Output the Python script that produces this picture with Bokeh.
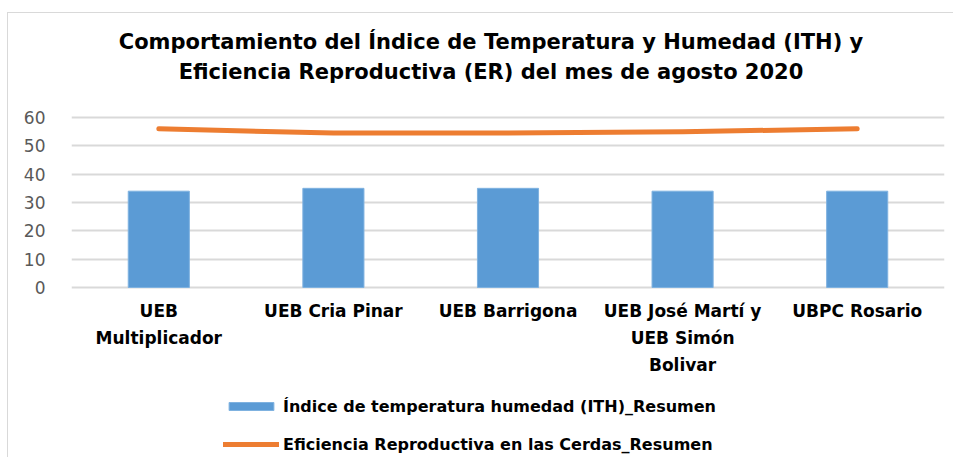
from bokeh.plotting import figure
from bokeh.models import FactorRange, Legend, LegendItem, ColumnDataSource
from bokeh.core.properties import value
from bokeh.embed import file_html
from bokeh.resources import INLINE

categories = ["UEB\nMultiplicador", "UEB Cria Pinar", "UEB Barrigona",
              "UEB José Martí y\nUEB Simón\nBolivar", "UBPC Rosario"]
ith_values = [34, 35, 35, 34, 34]
er_values = [56, 54.5, 54.5, 55, 56]
y_ticks = [0, 10, 20, 30, 40, 50, 60]
title_lines = ["Comportamiento del Índice de Temperatura y Humedad (ITH) y",
               "Eficiencia Reproductiva (ER) del mes de agosto 2020"]
series_names = ["Índice de temperatura humedad (ITH)_Resumen",
                "Eficiencia Reproductiva en las Cerdas_Resumen"]

FONT = "DejaVu Sans"
BLUE = "#5b9bd5"
ORANGE = "#ed7d31"

# layout positions (in axis units) for texts drawn inside the extended frame
LABEL_Y = -4.6
TITLE_Y = [86.8, 75.9]

src = ColumnDataSource(dict(cat=categories, ith=ith_values, er=er_values,
                            lab_y=[LABEL_Y] * len(categories)))
title_src = ColumnDataSource(dict(x=[categories[2]] * len(title_lines),
                                  y=TITLE_Y, text=title_lines))

p = figure(width=946, height=445, output_backend="svg", toolbar_location=None,
           x_range=FactorRange(factors=categories), y_range=(-60.35, 96.71),
           min_border_left=63, min_border_right=10, min_border_top=0,
           min_border_bottom=0,
           styles={"margin-left": "7px", "margin-top": "12px",
                   "border-left": "1px solid #d9d9d9", "border-top": "1px solid #d9d9d9"})
p.outline_line_color = None
p.background_fill_color = "white"
p.border_fill_color = "white"

bars = p.vbar(x="cat", top="ith", width=0.35, source=src, fill_color=BLUE,
              line_color="#7fb2e0", line_width=1)
line = p.line(x="cat", y="er", source=src, line_color=ORANGE, line_width=5,
              line_cap="round", line_join="round")
p.text(x="cat", y="lab_y", text="cat", source=src, text_align="center",
       text_baseline="top", text_font=value(FONT), text_font_size="17px",
       text_font_style="bold", text_color="black", text_line_height=1.35)
p.text(x="x", y="y", text="text", source=title_src, text_align="center",
       text_baseline="middle", x_offset=-17, text_font=value(FONT),
       text_font_size="21px", text_font_style="bold", text_color="black")

p.xaxis.visible = False
p.xgrid.grid_line_color = None
p.ygrid.grid_line_color = "#d9d9d9"
p.ygrid.grid_line_width = 2
p.yaxis.ticker = y_ticks
p.ygrid.ticker = y_ticks
p.yaxis.axis_line_color = None
p.yaxis.major_tick_line_color = None
p.yaxis.minor_tick_line_color = None
p.yaxis.major_label_text_font = FONT
p.yaxis.major_label_text_font_size = "17px"
p.yaxis.major_label_text_color = "#595959"
p.yaxis.major_label_standoff = 20

legend = Legend(items=[LegendItem(label=series_names[0], renderers=[bars]),
                       LegendItem(label=series_names[1], renderers=[line])],
                location=(152, 4), orientation="vertical",
                padding=0, margin=0, spacing=18, border_line_color=None,
                background_fill_alpha=0, glyph_width=56, glyph_height=10,
                label_height=20, label_standoff=4,
                label_text_font=FONT, label_text_font_size="16px",
                label_text_font_style="bold", label_text_color="black")
p.add_layout(legend, "center")

open("out.html", "w").write(file_html(p, INLINE))
